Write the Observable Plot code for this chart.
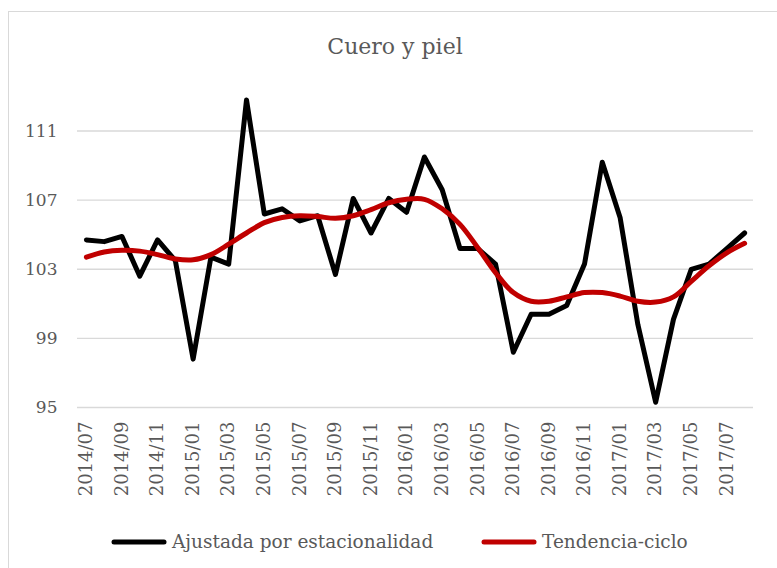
<!DOCTYPE html>
<html><head><meta charset="utf-8">
<script src="https://cdn.jsdelivr.net/npm/d3@7"></script>
<script src="https://cdn.jsdelivr.net/npm/@observablehq/plot@0.6"></script>
<style>
html,body{margin:0;padding:0;overflow:hidden;background:#fff;width:777px;height:568px;}
#frame{position:absolute;left:8px;top:11px;width:800px;height:600px;border:1px solid #d9d9d9;box-sizing:border-box;}
#chart{position:absolute;left:0;top:0;}
#title{position:absolute;left:8px;width:774px;top:36px;text-align:center;font-family:"DejaVu Serif";font-size:22px;line-height:22px;color:#595959;}
.item{position:absolute;top:533px;display:flex;align-items:center;font-family:"DejaVu Serif";font-size:18.5px;line-height:18.5px;color:#595959;white-space:nowrap;}
.item svg{margin-right:5px;}
</style></head><body>
<div id="frame"></div>
<div id="chart"></div>
<div id="title">Cuero y piel</div>
<div id="legend"></div>
<script>
const months = ["2014/07","2014/08","2014/09","2014/10","2014/11","2014/12",
"2015/01","2015/02","2015/03","2015/04","2015/05","2015/06","2015/07","2015/08","2015/09","2015/10","2015/11","2015/12",
"2016/01","2016/02","2016/03","2016/04","2016/05","2016/06","2016/07","2016/08","2016/09","2016/10","2016/11","2016/12",
"2017/01","2017/02","2017/03","2017/04","2017/05","2017/06","2017/07","2017/08"];
const ajustada = [104.7,104.6,104.9,102.6,104.7,103.5,97.8,103.7,103.3,112.8,106.2,106.5,105.8,106.1,102.7,107.1,105.1,107.1,
106.3,109.5,107.6,104.2,104.2,103.3,98.2,100.4,100.4,100.9,103.3,109.2,106.0,99.8,95.3,100.1,103.0,103.3,104.2,105.1];
const tendencia = [103.7,104.0,104.1,104.05,103.85,103.6,103.55,103.85,104.45,105.1,105.7,106.0,106.1,106.05,105.95,106.1,106.45,106.85,
107.05,107.05,106.5,105.6,104.25,102.8,101.65,101.15,101.15,101.4,101.65,101.65,101.45,101.15,101.1,101.4,102.3,103.2,103.95,104.5];
const yTicks = [95,99,103,107,111];
const xTickLabels = ["2014/07","2014/09","2014/11","2015/01","2015/03","2015/05","2015/07","2015/09","2015/11",
"2016/01","2016/03","2016/05","2016/07","2016/09","2016/11","2017/01","2017/03","2017/05","2017/07"];
const seriesNames = ["Ajustada por estacionalidad","Tendencia-ciclo"];
const seriesColors = ["#000000","#c00000"];

const data = months.map((m,i)=>({month:m, ajustada:ajustada[i], tendencia:tendencia[i]}));

const chart = Plot.plot({
  width:777, height:568,
  marginLeft:77, marginRight:24, marginTop:96, marginBottom:161,
  x:{type:"point", domain:months, padding:0.5, round:false, label:null},
  y:{domain:[95,113], label:null},
  style:{fontFamily:"DejaVu Serif", color:"#595959", background:"transparent"},
  marks:[
    Plot.ruleY(yTicks,{stroke:"#d9d9d9", strokeWidth:1.4}),
    Plot.axisY({ticks:yTicks, tickSize:0, tickPadding:20, fontSize:17, fill:"#595959", label:null}),
    Plot.axisX({ticks:xTickLabels, tickSize:0, tickPadding:14, tickRotate:-90, fontSize:18, fill:"#595959", label:null}),
    Plot.line(data,{x:"month", y:"ajustada", stroke:seriesColors[0], strokeWidth:5, strokeLinejoin:"round", strokeLinecap:"round"}),
    Plot.line(data,{x:"month", y:"tendencia", stroke:seriesColors[1], strokeWidth:5, curve:"catmull-rom", strokeLinejoin:"round", strokeLinecap:"round"})
  ]
});
document.getElementById("chart").append(chart);

const legend = document.getElementById("legend");
const lefts = [111, 481];
seriesNames.forEach((name,i)=>{
  const d = document.createElement("div");
  d.className = "item";
  d.style.left = lefts[i]+"px";
  d.innerHTML = `<svg width="56" height="8"><line x1="3" y1="4" x2="53" y2="4" stroke="${seriesColors[i]}" stroke-width="5" stroke-linecap="round"/></svg><span>${name}</span>`;
  legend.append(d);
});
</script>
</body></html>
